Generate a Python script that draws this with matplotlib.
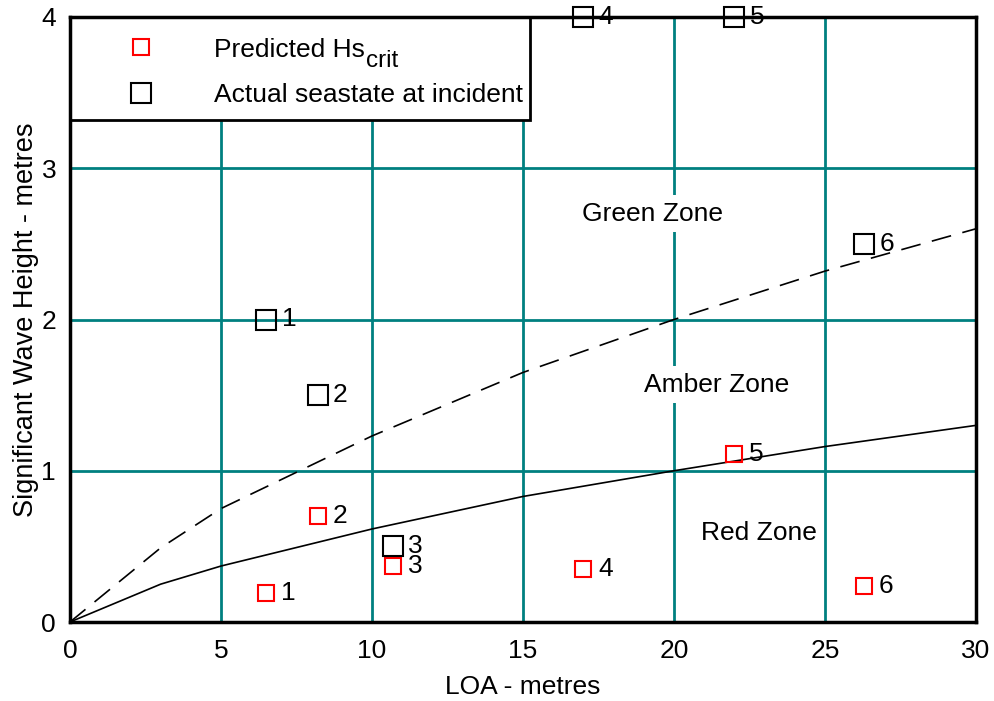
import matplotlib
matplotlib.use("Agg")
import matplotlib.pyplot as plt
from matplotlib.patches import Rectangle

plt.rcParams['font.family'] = ['Liberation Sans', 'DejaVu Sans']

# Data
boat_ids = ["1", "2", "3", "4", "5", "6"]
loa = [6.5, 8.2, 10.7, 17.0, 22.0, 26.3]
predicted_hs = [0.19, 0.70, 0.37, 0.35, 1.11, 0.24]
actual_hs = [2.0, 1.5, 0.5, 4.0, 4.0, 2.5]

curve_x = [0, 3, 5, 10, 15, 20, 25, 30]
red_amber = [0, 0.25, 0.37, 0.615, 0.83, 1.0, 1.16, 1.30]
amber_green = [0, 0.49, 0.75, 1.23, 1.65, 2.0, 2.32, 2.60]

zones = ["Green Zone", "Amber Zone", "Red Zone"]
zone_x = [19.3, 21.4, 22.8]
zone_y = [2.70, 1.57, 0.59]

legend_main = "Predicted Hs"
legend_sub = "crit"
legend_second = "Actual seastate at incident"

FS = 19
W, H = 995, 701
fig = plt.figure(figsize=(W/100, H/100), dpi=100)
ax = fig.add_axes([70/W, 1-622/H, (976-70)/W, (622-17)/H])
ax.set_xlim(0, 30)
ax.set_ylim(0, 4)
ax.set_xticks(range(0, 31, 5))
ax.set_yticks(range(0, 5))
ax.grid(True, color='#008080', linewidth=2)
ax.set_axisbelow(True)
for s in ax.spines.values():
    s.set_linewidth(2.5)
    s.set_color('black')
    s.set_zorder(8)
ax.tick_params(axis='x', length=0, labelsize=FS, pad=12)
ax.tick_params(axis='y', length=0, labelsize=FS, pad=10)
ax.set_xlabel("LOA - metres", fontsize=FS, labelpad=9)
ax.set_ylabel("Significant Wave Height - metres", fontsize=19.5, labelpad=2)

ax.plot(curve_x, red_amber, color='black', linewidth=1.2, zorder=3)
ax.plot(curve_x, amber_green, color='black', linewidth=1.2, dashes=(12, 7), zorder=3)

for name, zx, zy in zip(zones, zone_x, zone_y):
    ax.text(zx, zy, name, fontsize=FS, ha='center', va='center', zorder=4,
            bbox=dict(facecolor='white', edgecolor='none', pad=5))

ax.plot(loa, predicted_hs, linestyle='none', marker='s', markersize=11.5,
        markerfacecolor='none', markeredgecolor='red', markeredgewidth=1.5,
        clip_on=False, zorder=9)
ax.plot(loa, actual_hs, linestyle='none', marker='s', markersize=14,
        markerfacecolor='none', markeredgecolor='black', markeredgewidth=1.5,
        clip_on=False, zorder=9)

for bid, x, y in zip(boat_ids, loa, predicted_hs):
    ax.annotate(bid, (x, y), xytext=(10.7, 0), textcoords='offset points',
                fontsize=FS, ha='left', va='center', zorder=9, annotation_clip=False)
for bid, x, y in zip(boat_ids, loa, actual_hs):
    ax.annotate(bid, (x, y), xytext=(11, 0), textcoords='offset points',
                fontsize=FS, ha='left', va='center', zorder=9, annotation_clip=False)

# Legend box (manual)
ax.add_patch(Rectangle((0, 0.830), 0.508, 0.170, transform=ax.transAxes,
                       facecolor='white', edgecolor='black', linewidth=2,
                       zorder=7, clip_on=False))
ax.plot([0.078], [0.950], transform=ax.transAxes, linestyle='none', marker='s',
        markersize=11.5, markerfacecolor='none', markeredgecolor='red',
        markeredgewidth=1.5, zorder=8, clip_on=False)
ax.plot([0.078], [0.874], transform=ax.transAxes, linestyle='none', marker='s',
        markersize=14, markerfacecolor='none', markeredgecolor='black',
        markeredgewidth=1.5, zorder=8, clip_on=False)
t1 = ax.text(0.159, 0.934, legend_main, transform=ax.transAxes, fontsize=FS,
             ha='left', va='baseline', zorder=8)
ax.annotate(legend_sub, xy=(1.0, 0.934), xycoords=(t1, ax.transAxes),
            xytext=(0.5, -7.2), textcoords='offset points', fontsize=17.5,
            ha='left', va='baseline', zorder=8, annotation_clip=False)
ax.text(0.159, 0.8595, legend_second, transform=ax.transAxes, fontsize=FS,
        ha='left', va='baseline', zorder=8)

fig.savefig("out.png", dpi=100)
